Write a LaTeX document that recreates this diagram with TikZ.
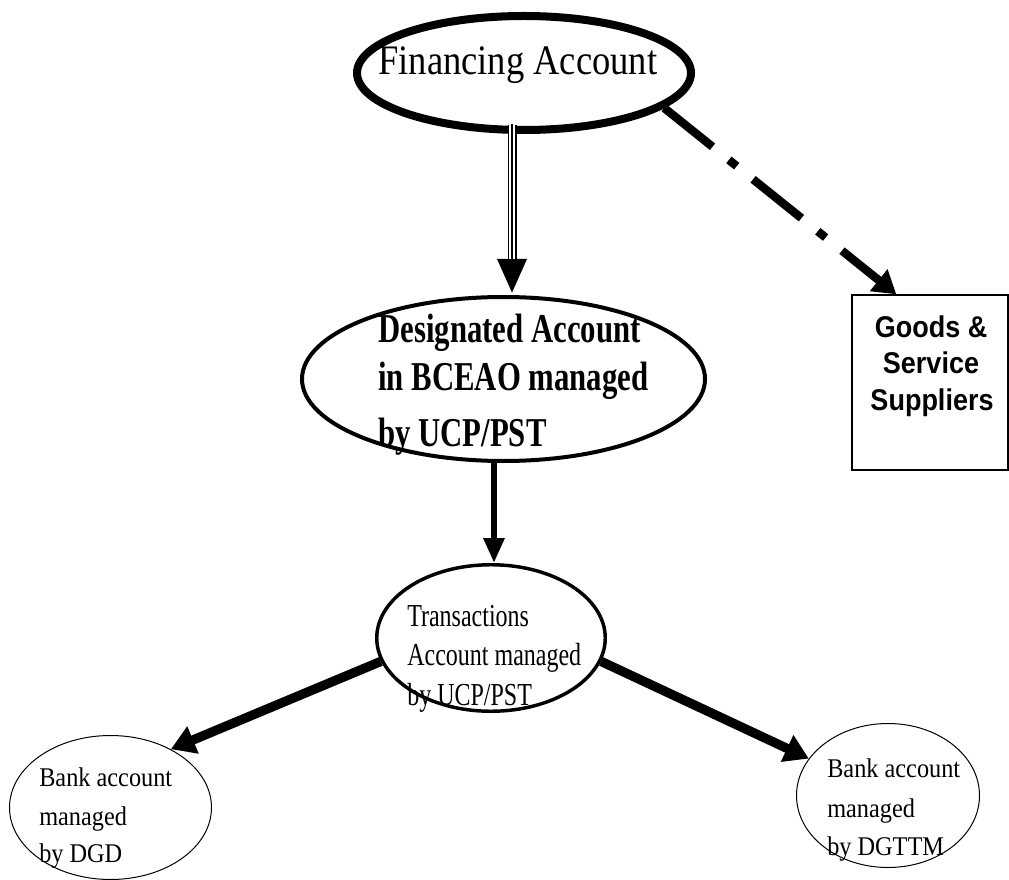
\documentclass[tikz,border=0pt]{standalone}
\usepackage{fontspec}
\setmainfont{Liberation Serif}
\newfontfamily\finfont[FakeStretch=0.87]{Liberation Serif}
\newfontfamily\desfont[FakeStretch=0.75]{Liberation Serif}
\newfontfamily\bankfont[FakeStretch=0.9]{Liberation Serif}
\newfontfamily\goodsfont[FakeStretch=0.9]{Liberation Sans}
\usetikzlibrary{arrows.meta,calc,shapes.geometric}
\tikzset{
  oval/.style={ellipse, draw, inner sep=0pt},
  txt/.style={inner sep=0pt, anchor=base west},
  thickarrow/.style={line width=7pt, -{Triangle[length=18pt,width=21pt]}},
}
\begin{document}
\begin{tikzpicture}[x=0.75pt,y=-0.75pt]
\fill[white] (0,0) rectangle (1009,880);
\useasboundingbox (0,0) rectangle (1009,880);

% shapes
\node[oval, line width=6pt, minimum width=250.5pt, minimum height=85.5pt] (fin) at (524,73) {};
\node[oval, line width=3pt, minimum width=302.25pt, minimum height=123pt] (des) at (503.5,379) {};
\node[oval, line width=2.6pt, minimum width=171.4pt, minimum height=109.9pt] (trans) at (491,638) {};
\node[oval, line width=0.75pt, minimum width=151.5pt, minimum height=108pt] (dgd) at (110.5,807.5) {};
\node[oval, line width=0.75pt, minimum width=137.25pt, minimum height=108pt] (dgttm) at (888,795.5) {};
\node[rectangle, draw, line width=1pt, inner sep=0pt, minimum width=117pt, minimum height=131.25pt] (goods) at (930,382.5) {};

% texts
\node[txt, font=\finfont\fontsize{31.5}{36}\selectfont] (finT) at (378,75) {Financing Account};
\node[txt, font=\desfont\bfseries\fontsize{30.75}{36}\selectfont] (desT1) at (378,342) {Designated Account};
\node[txt, font=\desfont\bfseries\fontsize{30.75}{36}\selectfont] (desT2) at (378,390) {in BCEAO managed};
\node[txt, font=\desfont\bfseries\fontsize{30.75}{36}\selectfont] (desT3) at (378,446) {by UCP/PST};
\node[txt, font=\desfont\fontsize{24}{28}\selectfont] (trT1) at (407,626) {Transactions};
\node[txt, font=\desfont\fontsize{24}{28}\selectfont] (trT2) at (407,665) {Account managed};
\node[txt, font=\desfont\fontsize{24}{28}\selectfont] (trT3) at (407,705) {by UCP/PST};
\node[txt, font=\bankfont\fontsize{20.25}{24}\selectfont] (dgdT1) at (39,786) {Bank account};
\node[txt, font=\bankfont\fontsize{20.25}{24}\selectfont] (dgdT2) at (39,825) {managed};
\node[txt, font=\bankfont\fontsize{20.25}{24}\selectfont] (dgdT3) at (39,862) {by DGD};
\node[txt, font=\bankfont\fontsize{20.25}{24}\selectfont] (dgtT1) at (827,777) {Bank account};
\node[txt, font=\bankfont\fontsize{20.25}{24}\selectfont] (dgtT2) at (827,817) {managed};
\node[txt, font=\bankfont\fontsize{20.25}{24}\selectfont] (dgtT3) at (827,855) {by DGTTM};
\node[inner sep=0pt, anchor=base, font=\goodsfont\bfseries\fontsize{22.5}{27}\selectfont] (gT1) at (931,337) {Goods \&};
\node[inner sep=0pt, anchor=base, font=\goodsfont\bfseries\fontsize{22.5}{27}\selectfont] (gT2) at (931,373) {Service};
\node[inner sep=0pt, anchor=base, font=\goodsfont\bfseries\fontsize{22.5}{27}\selectfont] (gT3) at (932,410) {Suppliers};

% triple-line arrow
\draw[line width=6.75pt, -{Triangle[length=26.25pt,width=20.25pt]}] ($(fin.south)+(-12,-9)$) -- ($(des.north)+(8.5,-1)$);
\draw[white, line width=4.1pt, shorten >=26.5pt] ($(fin.south)+(-12,-10)$) -- ($(des.north)+(8.5,-1)$);
\draw[line width=1.35pt, shorten >=26.5pt] ($(fin.south)+(-12,-10)$) -- ($(des.north)+(8.5,-1)$);

% dash-dot arrow
\draw[line width=6.3pt, dash pattern=on 46.5pt off 15.75pt on 7.5pt off 15.75pt,
      -{Triangle[length=17pt,width=20pt]}] (fin.-14.5) -- ($(goods.north west)+(45,0)$);

% designated -> transactions
\draw[line width=4.5pt, -{Triangle[length=18.75pt,width=15pt]}] ($(des.south)+(-9.5,0)$) -- ($(trans.north)+(3,0)$);

% transactions -> banks
\draw[thickarrow] (trans.192.8) -- (dgd.44);
\draw[thickarrow] (trans.-12.6) -- (dgttm.155.4);
\end{tikzpicture}
\end{document}
